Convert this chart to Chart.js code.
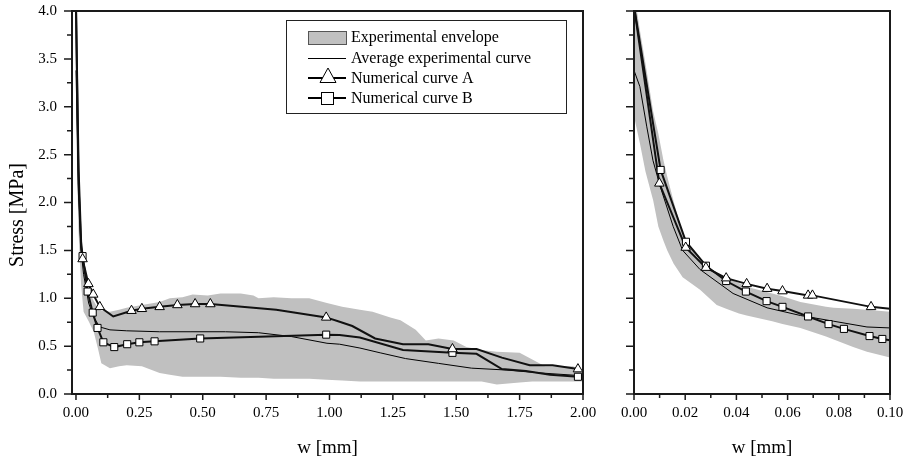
<!DOCTYPE html>
<html>
<head>
<meta charset="utf-8">
<script src="https://cdn.jsdelivr.net/npm/chart.js@4.4.0/dist/chart.umd.min.js"></script>
<style>
  body { margin: 0; background: #fff; }
  #wrap { position: relative; width: 908px; height: 464px; }
  canvas { position: absolute; top: 0; }
  #left { left: 0; }
  #right { left: 600px; }
</style>
</head>
<body>
<div id="wrap">
  <canvas id="left" width="600" height="464"></canvas>
  <canvas id="right" width="308" height="464"></canvas>
</div>
<script>
// tick labels
const stressTicks = [0, 0.5, 1, 1.5, 2, 2.5, 3, 3.5, 4];
const wTicksWide = [0, 0.25, 0.5, 0.75, 1, 1.25, 1.5, 1.75, 2];
const wTicksZoom = [0, 0.02, 0.04, 0.06, 0.08, 0.1];

const labelEnv = 'Experimental envelope';
const labelAvg = 'Average experimental curve';
const labelA = 'Numerical curve A';
const labelB = 'Numerical curve B';

// ---- left panel, w 0 - 2 mm ----
const envW = [0, 0.005, 0.01, 0.02, 0.03, 0.05, 0.07, 0.088, 0.1, 0.134, 0.17, 0.2, 0.26, 0.33, 0.37, 0.42, 0.46, 0.52, 0.57, 0.65, 0.7, 0.72, 0.78, 0.85, 0.92, 0.99, 1.05, 1.12, 1.17, 1.24, 1.28, 1.34, 1.38, 1.43, 1.49, 1.54, 1.6, 1.66, 1.75, 1.8, 1.85, 1.9, 1.96, 2.0];
const envHi = [4.2, 3.3, 2.6, 1.68, 1.3, 1.08, 0.97, 0.89, 0.87, 0.86, 0.88, 0.9, 0.93, 0.96, 1.0, 1.01, 1.04, 1.03, 1.05, 1.05, 1.03, 1.0, 1.01, 1.0, 1.0, 0.95, 0.91, 0.88, 0.86, 0.8, 0.77, 0.67, 0.56, 0.58, 0.56, 0.49, 0.46, 0.44, 0.43, 0.36, 0.29, 0.29, 0.29, 0.25];
const envLo = [2.9, 2.3, 1.7, 1.15, 0.86, 0.76, 0.65, 0.46, 0.32, 0.27, 0.29, 0.3, 0.29, 0.22, 0.2, 0.18, 0.18, 0.18, 0.18, 0.17, 0.17, 0.17, 0.16, 0.16, 0.16, 0.15, 0.14, 0.13, 0.13, 0.13, 0.13, 0.13, 0.13, 0.13, 0.13, 0.13, 0.13, 0.1, 0.12, 0.13, 0.13, 0.13, 0.13, 0.13];

const avgW = [0, 0.005, 0.01, 0.02, 0.03, 0.05, 0.07, 0.094, 0.134, 0.2, 0.33, 0.45, 0.59, 0.72, 0.85, 0.99, 1.04, 1.12, 1.2, 1.3, 1.43, 1.56, 1.7, 1.83, 2.0];
const avgS = [3.38, 2.79, 2.17, 1.5, 1.25, 0.95, 0.8, 0.7, 0.67, 0.66, 0.65, 0.65, 0.65, 0.64, 0.6, 0.53, 0.52, 0.48, 0.43, 0.37, 0.32, 0.27, 0.25, 0.22, 0.19];

const aMarkW = [0.026, 0.049, 0.068, 0.094, 0.219, 0.26, 0.33, 0.4, 0.47, 0.53, 0.987, 1.485, 1.98];
const aMarkS = [1.41, 1.15, 1.04, 0.91, 0.87, 0.89, 0.91, 0.93, 0.94, 0.94, 0.8, 0.47, 0.26];
const aBendW = [0, 0.0099, 0.0202, 0.147, 0.79, 1.04, 1.09, 1.18, 1.29, 1.39, 1.58, 1.68, 1.79, 1.88];
const aBendS = [4.05, 2.2, 1.53, 0.81, 0.88, 0.755, 0.71, 0.58, 0.52, 0.52, 0.47, 0.38, 0.3, 0.3];

const bMarkW = [0.026, 0.046, 0.066, 0.085, 0.108, 0.151, 0.202, 0.25, 0.31, 0.49, 0.987, 1.485, 1.98];
const bMarkS = [1.44, 1.07, 0.85, 0.69, 0.54, 0.49, 0.52, 0.54, 0.55, 0.58, 0.62, 0.43, 0.18];
const bBendW = [0, 0.0104, 0.0203, 1.04, 1.12, 1.29, 1.58, 1.68, 1.775, 1.87];
const bBendS = [4.05, 2.34, 1.59, 0.616, 0.59, 0.46, 0.42, 0.26, 0.24, 0.2];

// ---- right panel, w 0 - 0.1 mm ----
const zEnvW = [0, 0.0023, 0.0045, 0.0075, 0.0095, 0.0115, 0.013, 0.0155, 0.019, 0.0258, 0.0323, 0.036, 0.041, 0.044, 0.054, 0.058, 0.065, 0.075, 0.078, 0.0856, 0.091, 0.1];
const zEnvHi = [4.2, 3.8, 3.45, 2.95, 2.72, 2.44, 2.27, 2.01, 1.68, 1.37, 1.27, 1.22, 1.16, 1.12, 1.05, 1.02, 0.96, 0.91, 0.9, 0.89, 0.88, 0.86];
const zEnvLo = [2.9, 2.62, 2.32, 2.02, 1.75, 1.6, 1.5, 1.36, 1.22, 1.09, 0.93, 0.89, 0.84, 0.82, 0.76, 0.73, 0.69, 0.6, 0.57, 0.49, 0.44, 0.38];

const zAvgW = [0, 0.0023, 0.005, 0.0074, 0.0102, 0.0153, 0.019, 0.0258, 0.0387, 0.052, 0.065, 0.078, 0.091, 0.1];
const zAvgS = [3.38, 3.21, 2.79, 2.44, 2.17, 1.75, 1.5, 1.3, 1.05, 0.9, 0.82, 0.76, 0.7, 0.69];

const zAMarkW = [0.0099, 0.0202, 0.0281, 0.036, 0.044, 0.052, 0.058, 0.068, 0.0697, 0.0926];
const zAMarkS = [2.2, 1.53, 1.32, 1.21, 1.15, 1.1, 1.075, 1.03, 1.03, 0.91];
const zABendW = [0, 0.1];
const zABendS = [4.05, 0.89];

const zBMarkW = [0.0104, 0.0203, 0.0281, 0.036, 0.0437, 0.0518, 0.058, 0.068, 0.076, 0.082, 0.092, 0.097];
const zBMarkS = [2.34, 1.59, 1.34, 1.18, 1.07, 0.97, 0.91, 0.81, 0.73, 0.68, 0.605, 0.575];
const zBBendW = [0, 0.1];
const zBBendS = [4.05, 0.56];

const FONT = '"Liberation Serif", "Times New Roman", serif';
const GREY = '#c0c0c0';
Chart.defaults.font.family = FONT;
Chart.defaults.color = '#000';

function pts(xs, ys) {
  return xs.map((x, i) => ({ x, y: ys[i] }));
}
function curve(mw, ms, bw, bs) {
  return pts(mw, ms).concat(pts(bw, bs)).sort((p, q) => p.x - q.x);
}

// outward ticks (major + minor), the closed frame and the y title
const frameTicks = {
  id: 'frameTicks',
  afterDraw(chart, args, o) {
    const { ctx, chartArea: a, scales: { x, y } } = chart;
    ctx.save();
    ctx.strokeStyle = '#1a1a1a';
    ctx.lineWidth = 1.5;
    ctx.beginPath();
    const mid = (arr) => arr.slice(1).map((v, i) => (v + arr[i]) / 2);
    o.xMajor.forEach(v => { const p = x.getPixelForValue(v); ctx.moveTo(p, a.bottom); ctx.lineTo(p, a.bottom + 6); });
    mid(o.xMajor).forEach(v => { const p = x.getPixelForValue(v); ctx.moveTo(p, a.bottom); ctx.lineTo(p, a.bottom + 4); });
    o.yMajor.forEach(v => { const p = y.getPixelForValue(v); ctx.moveTo(a.left, p); ctx.lineTo(a.left - 8, p); });
    mid(o.yMajor).forEach(v => { const p = y.getPixelForValue(v); ctx.moveTo(a.left, p); ctx.lineTo(a.left - 5, p); });
    ctx.stroke();
    ctx.lineWidth = 2;
    ctx.strokeRect(a.left, a.top, a.right - a.left, a.bottom - a.top);

    if (o.yTitle) {
      ctx.translate(18, 215);
      ctx.rotate(-Math.PI / 2);
      ctx.fillStyle = '#000';
      ctx.font = '20px ' + FONT;
      ctx.textAlign = 'center';
      ctx.textBaseline = 'middle';
      ctx.fillText(o.yTitle, 0, 0);
    }
    ctx.restore();
  }
};

const boxLegend = {
  id: 'boxLegend',
  afterDraw(chart, args, o) {
    if (!o.show) return;
    const ctx = chart.ctx;
    const bx = 286, by = 20, bw = 280, bh = 93;
    const sx0 = 308, sx1 = 346, cx = 327, tx = 351;
    const rows = [37, 58, 78, 98];
    ctx.save();
    ctx.fillStyle = '#fff';
    ctx.fillRect(bx, by, bw, bh);
    ctx.strokeStyle = '#222';
    ctx.lineWidth = 1;
    ctx.strokeRect(bx + 0.5, by + 0.5, bw, bh);

    // envelope swatch
    ctx.fillStyle = GREY;
    ctx.fillRect(sx0, rows[0] - 6, sx1 - sx0, 13);
    ctx.strokeStyle = '#555';
    ctx.strokeRect(sx0 + 0.5, rows[0] - 6 + 0.5, sx1 - sx0, 13);

    ctx.strokeStyle = '#000';
    ctx.lineWidth = 1;
    ctx.beginPath(); ctx.moveTo(sx0, rows[1] + 0.5); ctx.lineTo(sx1, rows[1] + 0.5); ctx.stroke();
    ctx.lineWidth = 2;
    ctx.beginPath(); ctx.moveTo(sx0, rows[2]); ctx.lineTo(sx1, rows[2]); ctx.stroke();
    ctx.beginPath(); ctx.moveTo(sx0, rows[3]); ctx.lineTo(sx1, rows[3]); ctx.stroke();

    ctx.lineWidth = 1;
    ctx.fillStyle = '#fff';
    ctx.beginPath();
    ctx.moveTo(cx + 1, rows[2] - 10); ctx.lineTo(cx + 9, rows[2] + 4.5); ctx.lineTo(cx - 7, rows[2] + 4.5); ctx.closePath();
    ctx.fill(); ctx.stroke();
    ctx.fillRect(cx - 6, rows[3] - 6, 13, 13);
    ctx.strokeRect(cx - 6 + 0.5, rows[3] - 6 + 0.5, 12, 12);

    ctx.fillStyle = '#000';
    ctx.font = '16px ' + FONT;
    ctx.textBaseline = 'middle';
    ctx.textAlign = 'left';
    o.labels.forEach((t, i) => ctx.fillText(t, tx, rows[i] + 1));
    ctx.restore();
  }
};

function build(id, v) {
  const datasets = [
    { label: labelA, data: pts(v.amw, v.ams), showLine: false, pointStyle: 'triangle', pointRadius: 5.5,
      pointBackgroundColor: '#fff', pointBorderColor: '#000', pointBorderWidth: 1 },
    { label: labelB, data: pts(v.bmw, v.bms), showLine: false, pointStyle: 'rect', pointRadius: 5,
      pointBackgroundColor: '#fff', pointBorderColor: '#000', pointBorderWidth: 1 },
    { label: labelA, data: curve(v.amw, v.ams, v.abw, v.abs), borderColor: '#111', borderWidth: 2, pointRadius: 0, fill: false },
    { label: labelB, data: curve(v.bmw, v.bms, v.bbw, v.bbs), borderColor: '#111', borderWidth: 2, pointRadius: 0, fill: false },
    { label: labelAvg, data: pts(v.avgw, v.avgs), borderColor: '#000', borderWidth: 1, pointRadius: 0, fill: false },
    { label: labelEnv, data: pts(v.envw, v.envhi), borderColor: 'rgba(0,0,0,0)', borderWidth: 0, pointRadius: 0,
      backgroundColor: GREY, fill: '+1' },
    { label: labelEnv, data: pts(v.envw, v.envlo), borderColor: 'rgba(0,0,0,0)', borderWidth: 0, pointRadius: 0, fill: false }
  ];

  return new Chart(document.getElementById(id), {
    type: 'line',
    data: { datasets },
    plugins: [frameTicks, boxLegend],
    options: {
      responsive: false,
      animation: false,
      events: [],
      devicePixelRatio: 1,
      layout: { padding: { top: 11, right: v.padRight, left: 0, bottom: 0 } },
      elements: { line: { tension: 0 } },
      plugins: {
        legend: { display: false },
        tooltip: { enabled: false },
        filler: { drawTime: 'beforeDatasetsDraw' },
        frameTicks: { xMajor: v.xTicks, yMajor: stressTicks, yTitle: v.yTitle },
        boxLegend: { show: v.legend, labels: [labelEnv, labelAvg, labelA, labelB] }
      },
      scales: {
        x: {
          type: 'linear',
          min: v.xMin,
          max: v.xMax,
          afterBuildTicks: s => { s.ticks = v.xTicks.map(t => ({ value: t })); },
          afterFit: s => { s.height = 70; s.paddingLeft = 0; s.paddingRight = 0; },
          grid: { display: false, drawTicks: false },
          border: { display: false },
          ticks: { padding: 10, maxRotation: 0, autoSkip: false, font: { size: 15 },
                   callback: t => t.toFixed(2) },
          title: { display: true, text: 'w [mm]', font: { size: 19 }, padding: { top: 0, bottom: 5 } }
        },
        y: {
          min: 0,
          max: 4,
          afterBuildTicks: s => { s.ticks = stressTicks.map(t => ({ value: t })); },
          afterFit: s => { s.width = v.yWidth; s.paddingTop = 0; s.paddingBottom = 0; },
          grid: { display: false, drawTicks: false },
          border: { display: false },
          ticks: { display: v.yLabels, padding: 15, font: { size: 15 }, callback: t => t.toFixed(1) },
          title: { display: false }
        }
      }
    }
  });
}

build('left', {
  xMin: -0.0157, xMax: 2.0, xTicks: wTicksWide, yWidth: 72, yLabels: true, yTitle: 'Stress [MPa]', padRight: 17, legend: true,
  envw: envW, envhi: envHi, envlo: envLo, avgw: avgW, avgs: avgS,
  amw: aMarkW, ams: aMarkS, abw: aBendW, abs: aBendS,
  bmw: bMarkW, bms: bMarkS, bbw: bBendW, bbs: bBendS
});

build('right', {
  xMin: 0, xMax: 0.1, xTicks: wTicksZoom, yWidth: 34, yLabels: false, yTitle: '', padRight: 18, legend: false,
  envw: zEnvW, envhi: zEnvHi, envlo: zEnvLo, avgw: zAvgW, avgs: zAvgS,
  amw: zAMarkW, ams: zAMarkS, abw: zABendW, abs: zABendS,
  bmw: zBMarkW, bms: zBMarkS, bbw: zBBendW, bbs: zBBendS
});
</script>
</body>
</html>
